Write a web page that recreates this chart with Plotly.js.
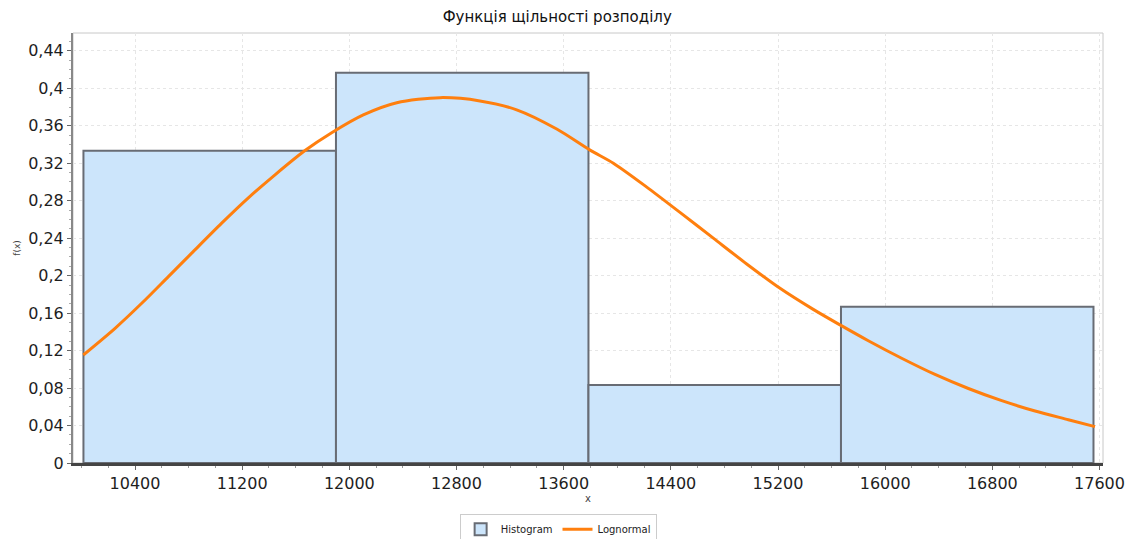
<!DOCTYPE html>
<html>
<head>
<meta charset="utf-8">
<script src="https://cdn.plot.ly/plotly-3.0.1.min.js"></script>
<style>html,body{margin:0;padding:0;background:#fff;overflow:hidden;}#chart{width:1128px;height:539px;}</style>
</head>
<body>
<div id="chart"></div>
<script>
// Histogram bins (edges) and heights
const binEdges = [10015, 11900, 13785, 15670, 17555];
const binHeights = [0.3333, 0.4167, 0.0833, 0.1667];

// Lognormal curve points
const curveX = [10014, 10251, 10450, 10649, 10823, 11047, 11246, 11445, 11669, 11868,
  12104, 12354, 12677, 12975, 13249, 13548, 13797, 13971, 14220, 14468, 14717, 14966,
  15215, 15463, 15663, 15874, 16123, 16372, 16621, 16870, 17119, 17367, 17566];
const curveY = [0.1153, 0.1438, 0.1705, 0.1990, 0.2240, 0.2560, 0.2830, 0.3076, 0.3335, 0.3525,
  0.3715, 0.3845, 0.3900, 0.3865, 0.3770, 0.3565, 0.3340, 0.3200, 0.2945, 0.2675, 0.2400, 0.2125,
  0.1865, 0.1640, 0.1474, 0.1305, 0.1118, 0.0945, 0.0795, 0.0665, 0.0555, 0.0462, 0.0388];

const titleText = 'Функція щільності розподілу';
const xTitle = 'x';
const yTitle = 'f(x)';
const seriesNames = ['Histogram', 'Lognormal'];

const barStarts = binEdges.slice(0, -1);
const barWidths = barStarts.map((s, i) => binEdges[i + 1] - s);

const traces = [
  {
    type: 'bar',
    name: seriesNames[0],
    x: barStarts,
    y: binHeights,
    width: barWidths,
    offset: 0,
    marker: {color: '#cce5fb', line: {color: '#686c74', width: 2}},
    hoverinfo: 'x+y'
  },
  {
    type: 'scatter',
    mode: 'lines',
    name: seriesNames[1],
    x: curveX,
    y: curveY,
    line: {color: '#ff7f0e', width: 3, shape: 'spline', smoothing: 0.8}
  }
];

const FONT = 'DejaVu Sans, Liberation Sans, Arial, sans-serif';
const tickFont = {family: FONT, size: 16, color: '#1e1e1e'};

const layout = {
  width: 1128,
  height: 539,
  margin: {l: 73, r: 25, t: 33, b: 76, autoexpand: false},
  paper_bgcolor: '#ffffff',
  plot_bgcolor: '#ffffff',
  separators: ', ',
  bargap: 0,
  title: {
    text: titleText,
    font: {family: FONT, size: 15, color: '#111'},
    x: 0.494, xanchor: 'center', xref: 'container',
    y: 19, yref: 'container', yanchor: 'middle'
  },
  xaxis: {
    range: [9937, 17626],
    tick0: 10400,
    dtick: 800,
    tickformat: 'd',
    ticks: 'outside',
    ticklen: 4,
    tickcolor: '#666',
    tickfont: tickFont,
    showgrid: true,
    gridcolor: '#e6e6e6',
    griddash: 'dot',
    showline: true,
    linecolor: '#444',
    linewidth: 3,
    zeroline: false,
    automargin: false,
    minor: {ticks: 'outside', dtick: 200, ticklen: 2, tickcolor: '#999', showgrid: false},
    title: {text: xTitle, font: {family: FONT, size: 10, color: '#444'}, standoff: 3}
  },
  yaxis: {
    range: [0, 0.459],
    tick0: 0,
    dtick: 0.04,
    ticks: 'outside',
    ticklen: 4,
    tickcolor: '#666',
    tickfont: tickFont,
    showgrid: true,
    gridcolor: '#e6e6e6',
    griddash: 'dot',
    showline: true,
    linecolor: '#888',
    linewidth: 2,
    zeroline: false,
    automargin: false,
    minor: {ticks: 'outside', dtick: 0.01, ticklen: 2, tickcolor: '#aaa', showgrid: false},
    title: {text: yTitle, font: {family: FONT, size: 9, color: '#444'}, standoff: 6}
  },
  shapes: [
    {type: 'rect', xref: 'paper', yref: 'paper', x0: 0, x1: 1, y0: 0, y1: 1,
     line: {color: '#c8c8c8', width: 1}, layer: 'below'}
  ],
  showlegend: true,
  legend: {
    orientation: 'h',
    x: 0.471, xanchor: 'center',
    y: -0.118, yanchor: 'top',
    bordercolor: '#cccccc',
    borderwidth: 1,
    font: {family: FONT, size: 10, color: '#222'},
    itemwidth: 30,
    tracegroupgap: 0
  }
};

Plotly.newPlot('chart', traces, layout, {displayModeBar: false, staticPlot: true});
</script>
</body>
</html>
